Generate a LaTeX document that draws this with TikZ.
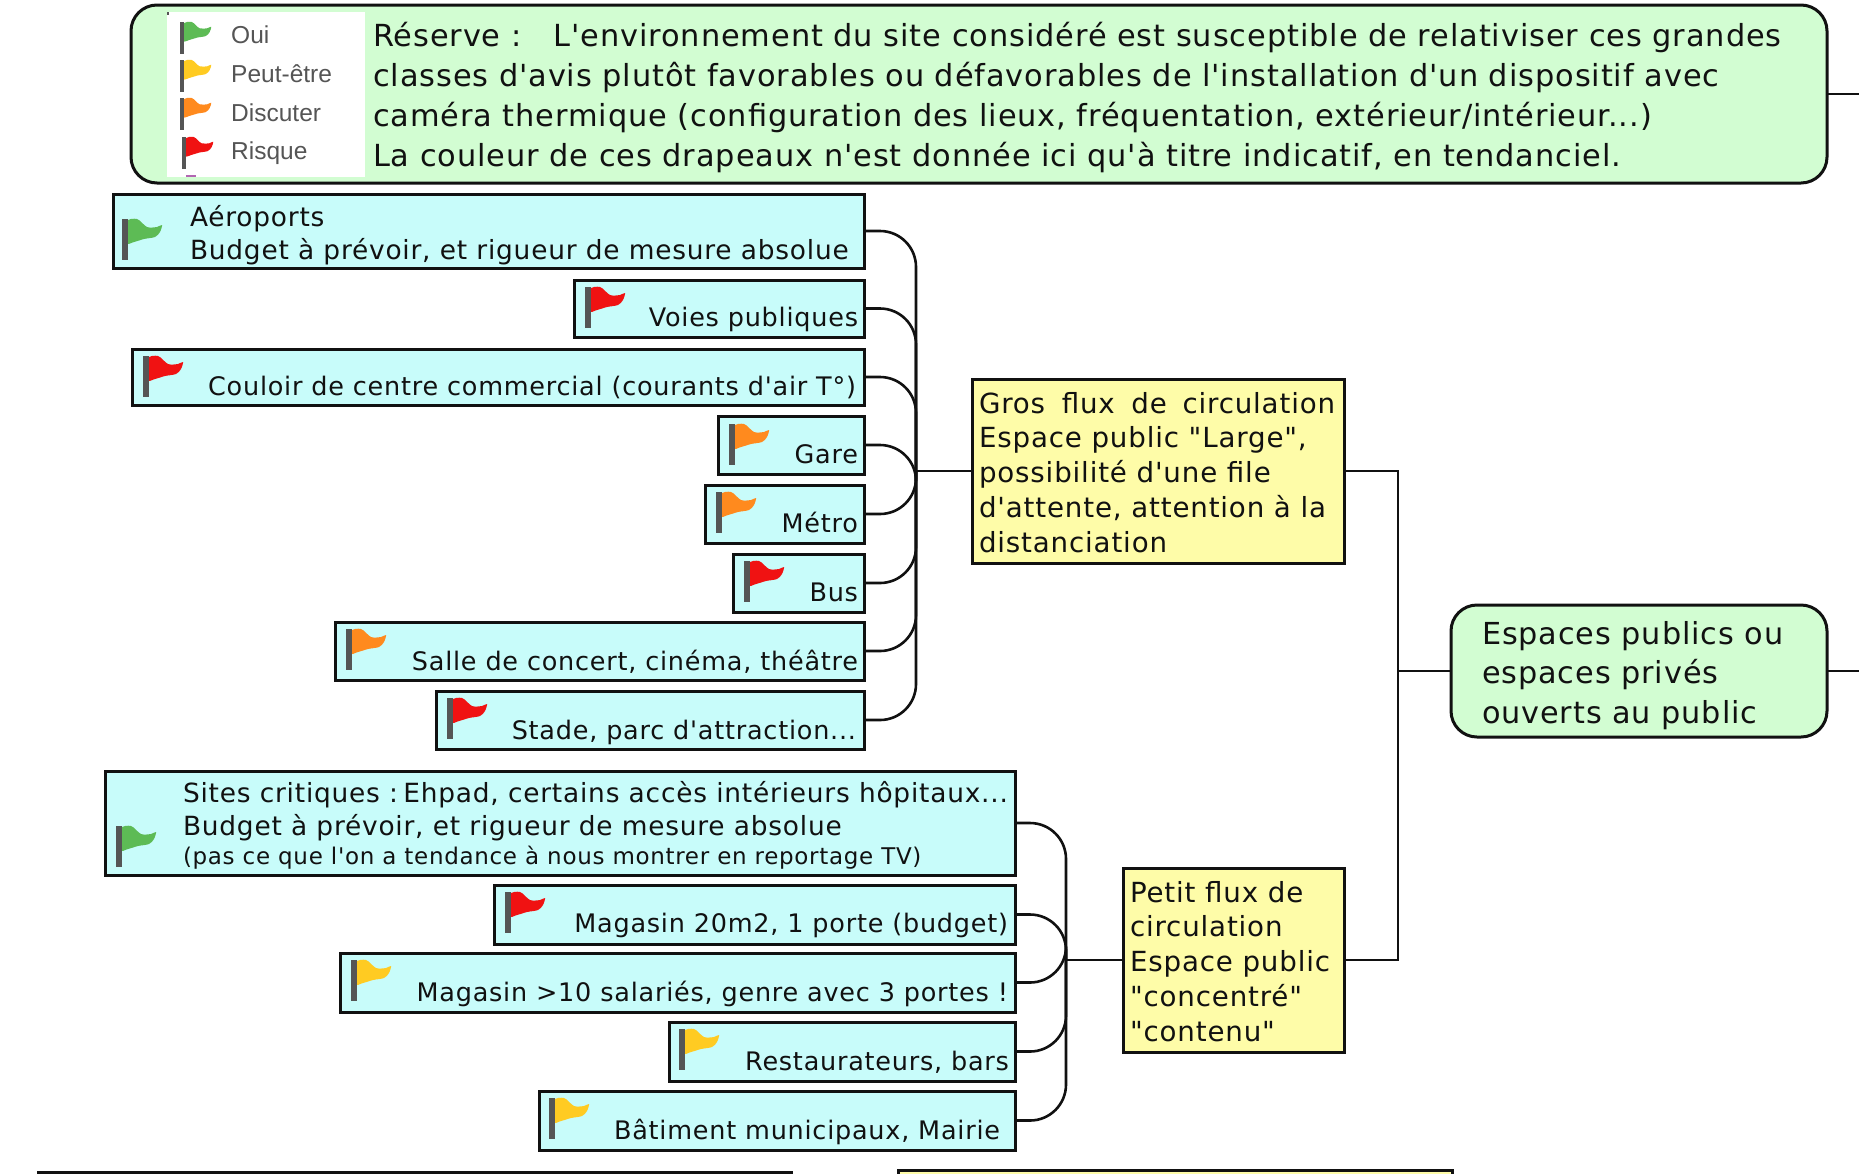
\documentclass[tikz,border=0pt]{standalone}
\usepackage{fontspec}
\newfontfamily\djv{DejaVu Sans}[LetterSpace=3]
\newfontfamily\lib{Liberation Sans}
\definecolor{cyanfill}{HTML}{C8FCFA}
\definecolor{greenfill}{HTML}{D2FDD2}
\definecolor{yellowfill}{HTML}{FEFCA8}
\definecolor{fgreen}{HTML}{5DBB55}
\definecolor{fyellow}{HTML}{FFCB22}
\definecolor{forange}{HTML}{FF8A1E}
\definecolor{fred}{HTML}{F01212}
\definecolor{fpole}{HTML}{555555}
\definecolor{ink}{HTML}{111111}
\tikzset{
 boxbase/.style={draw=ink,line width=3pt,inner sep=0pt,outer sep=0pt,anchor=north west},
 cyanbox/.style={boxbase,fill=cyanfill},
 yellowbox/.style={boxbase,fill=yellowfill},
 greenbox/.style={boxbase,fill=greenfill,rounded corners=26pt},
 conn/.style={draw=ink,line width=2.6pt,rounded corners=36pt},
 stem/.style={draw=ink,line width=2.6pt},
 lab/.style={inner sep=0pt,outer sep=0pt,text=ink,align=left},
 big/.style={lab,font=\djv\fontsize{30.4}{40}\selectfont},
 mid/.style={lab,font=\djv\fontsize{27.7}{34.7}\selectfont},
 sm/.style={lab,font=\djv\fontsize{25.5}{32.5}\selectfont},
 smw/.style={lab,font=\djv\fontsize{26.4}{32.5}\selectfont},
 tiny/.style={lab,font=\djv\fontsize{23}{29}\selectfont},
 esp/.style={lab,font=\djv\fontsize{30.3}{39.5}\selectfont},
 leg/.style={inner sep=0pt,text=fpole,font=\lib\fontsize{24.5}{24.5}\selectfont},
}
\newcommand\bx[6]{\node[#6,minimum width=#4pt-#2pt,minimum height=#5pt-#3pt] (#1) at (#2,#3) {};}
\newcommand\flagat[4][1]{\begin{scope}[shift={(#2,#3)},scale=#1]
 \fill[#4] plot[smooth cycle,tension=.5] coordinates {(4,3)(15,0)(25,8)(35,8)(40,6)(38,13)(33,18)(22,20)(12,23)(4,24)};
 \fill[fpole] (0,0) rectangle (5.5,41);
\end{scope}}
\begin{document}
\begin{tikzpicture}[x=1pt,y=-1pt]
\useasboundingbox (0,0) rectangle (1859,1173);
\clip (0,0) rectangle (1859,1173);
% connectors
\coordinate (j1) at (916,471);
\coordinate (j2) at (1066,960);
\coordinate (j3) at (1398,671);
\coordinate (rtop) at (1859,94);
\coordinate (rmain) at (1859,671);
% top note
\bx{note}{131}{5}{1827}{183}{greenbox}
\fill[white] (167,12) rectangle (365,177);
\fill[fpole] (167,12) rectangle (169,15);
\fill[violet!60] (186,175) rectangle (196,177);
\flagat[.78]{180}{22}{fgreen}
\flagat[.78]{180}{60}{fyellow}
\flagat[.78]{180}{98}{forange}
\flagat[.78]{182}{137}{fred}
\node[leg,anchor=base west] (l1) at (231,43) {Oui};
\node[leg,anchor=base west] (l2) at (231,82) {Peut-être};
\node[leg,anchor=base west] (l3) at (231,121) {Discuter};
\node[leg,anchor=base west] (l4) at (231,159) {Risque};
\node[big,anchor=base west] (notetext) at (373,166) {Réserve :\hspace{18pt} L'environnement du site considéré est susceptible de relativiser ces grandes\\classes d'avis plutôt favorables ou défavorables de l'installation d'un dispositif avec\\caméra thermique (configuration des lieux, fréquentation, extérieur/intérieur...)\\La couleur de ces drapeaux n'est donnée ici qu'à titre indicatif, en tendanciel.};
% group 1
\bx{a1}{113}{194}{864}{268}{cyanbox}
\bx{a2}{574}{280}{864}{337}{cyanbox}
\bx{a3}{132}{349}{864}{405}{cyanbox}
\bx{a4}{718}{416}{864}{474}{cyanbox}
\bx{a5}{705}{485}{864}{543}{cyanbox}
\bx{a6}{733}{554}{864}{612}{cyanbox}
\bx{a7}{335}{622}{864}{680}{cyanbox}
\bx{a8}{436}{691}{864}{749}{cyanbox}
% group 2
\bx{b1}{105}{771}{1015}{875}{cyanbox}
\bx{b2}{494}{885}{1015}{944}{cyanbox}
\bx{b3}{340}{953}{1015}{1012}{cyanbox}
\bx{b4}{669}{1022}{1015}{1081}{cyanbox}
\bx{b5}{539}{1091}{1015}{1150}{cyanbox}
% parents
\bx{gros}{972}{379}{1344}{563}{yellowbox}
\bx{petit}{1123}{868}{1344}{1052}{yellowbox}
\bx{espaces}{1451}{605}{1827}{737}{greenbox}
% cropped boxes at the bottom
\bx{cutleft}{38}{1172}{791}{1200}{cyanbox}
\bx{cutright}{898}{1170}{1452}{1200}{yellowbox}
% flags
\flagat{122}{219}{fgreen}
\flagat{585}{287}{fred}
\flagat{143}{356}{fred}
\flagat{729}{424}{forange}
\flagat{716}{492}{forange}
\flagat{744}{561}{fred}
\flagat{346}{629}{forange}
\flagat{447}{698}{fred}
\flagat{116}{826}{fgreen}
\flagat{505}{892}{fred}
\flagat{351}{960}{fyellow}
\flagat{679}{1029}{fyellow}
\flagat{549}{1098}{fyellow}
% labels
\node[smw,anchor=base west] (ta1) at (190,259) {Aéroports\\Budget à prévoir, et rigueur de mesure absolue};
\node[sm,anchor=base east] (ta2) at (858,326) {Voies publiques};
\node[sm,anchor=base east] (ta3) at (856,395) {Couloir de centre commercial (courants d'air T°)};
\node[sm,anchor=base east] (ta4) at (858,463) {Gare};
\node[sm,anchor=base east] (ta5) at (858,532) {Métro};
\node[sm,anchor=base east] (ta6) at (858,601) {Bus};
\node[sm,anchor=base east] (ta7) at (858,670) {Salle de concert, cinéma, théâtre};
\node[sm,anchor=base east] (ta8) at (856,739) {Stade, parc d'attraction...};
\node[smw,anchor=base west] (tb1) at (183,835) {Sites critiques :\hspace{-7pt} Ehpad, certains accès intérieurs hôpitaux...\\Budget à prévoir, et rigueur de mesure absolue};
\node[tiny,anchor=base west] (tb1b) at (183,864) {(pas ce que l'on a tendance à nous montrer en reportage TV)};
\node[sm,anchor=base east] (tb2) at (1008,932) {Magasin 20m2, 1 porte (budget)};
\node[sm,anchor=base east] (tb3) at (1008,1001) {Magasin >10 salariés, genre avec 3 portes !};
\node[sm,anchor=base east] (tb4) at (1009,1070) {Restaurateurs, bars};
\node[sm,anchor=base east] (tb5) at (1000,1139) {Bâtiment municipaux, Mairie};
\node[mid,anchor=base west] (tgros) at (979,552) {Gros\hspace{7pt} flux\hspace{7pt} de\hspace{6pt} circulation\\Espace public "Large",\\possibilité d'une file\\d'attente, attention à la\\distanciation};
\node[mid,anchor=base west] (tpetit) at (1130,1041) {Petit flux de\\circulation\\Espace public\\"concentré"\\"contenu"};
\node[esp,anchor=base west] (tesp) at (1482,723) {Espaces publics ou\\espaces privés\\ouverts au public};
% connectors
\foreach \n in {a1,a2,a3,a4,a5,a6,a7,a8} \draw[conn] (\n.east) -| (j1);
\foreach \n in {b1,b2,b3,b4,b5} \draw[conn] (\n.east) -| (j2);
\draw[stem] (gros.west) -- (j1);
\draw[stem] (petit.west) -- (j2);
\draw[stem] (gros.east) -| (j3);
\draw[stem] (petit.east) -| (j3);
\draw[stem] (espaces.west) -- (j3);
\draw[stem] (espaces.east) -- (rmain);
\draw[stem] (note.east) -- (rtop);
\end{tikzpicture}
\end{document}
